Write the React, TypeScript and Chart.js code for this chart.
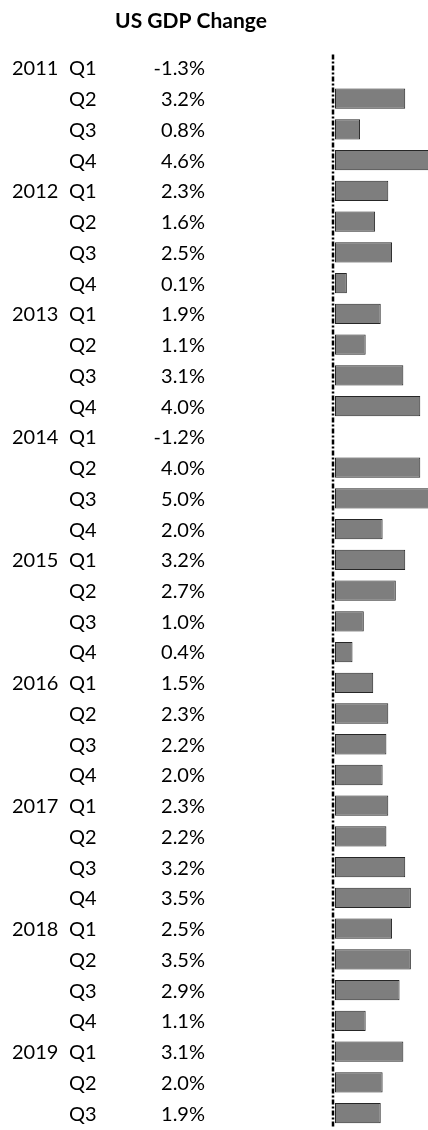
import { useEffect, useRef } from 'react';
import { Chart, registerables } from 'chart.js';

Chart.register(...registerables);

const TITLE = 'US GDP Change';
const years = ['2011', '2012', '2013', '2014', '2015', '2016', '2017', '2018', '2019'];
const quarters = ['Q1', 'Q2', 'Q3', 'Q4'];
const gdpChange = [
  -1.3, 3.2, 0.8, 4.6,
  2.3, 1.6, 2.5, 0.1,
  1.9, 1.1, 3.1, 4.0,
  -1.2, 4.0, 5.0, 2.0,
  3.2, 2.7, 1.0, 0.4,
  1.5, 2.3, 2.2, 2.0,
  2.3, 2.2, 3.2, 3.5,
  2.5, 3.5, 2.9, 1.1,
  3.1, 2.0, 1.9,
];

const X_MIN = -0.53;
const X_MAX = 4.41;

export default function App() {
  const ref = useRef<HTMLCanvasElement>(null);

  useEffect(() => {
    document.body.style.margin = '0';
    const canvas = ref.current;
    if (!canvas) return;

    const rowYear = gdpChange.map((_, i) => (i % 4 === 0 ? years[Math.floor(i / 4)] : ''));
    const rowQuarter = gdpChange.map((_, i) => quarters[i % 4]);
    const labels = gdpChange.map((_, i) => `${years[Math.floor(i / 4)]} ${rowQuarter[i]}`);

    const tablePlugin = {
      id: 'tableText',
      afterDraw(chart: any) {
        const ctx = chart.ctx as CanvasRenderingContext2D;
        const yScale = chart.scales.y;
        const area = chart.chartArea;
        ctx.save();
        // title
        ctx.fillStyle = '#000';
        ctx.font = 'bold 21px Lato, "Open Sans", sans-serif';
        ctx.textAlign = 'center';
        ctx.textBaseline = 'alphabetic';
        ctx.fillText(TITLE, 191, 28);
        // rows
        ctx.font = '20px Lato, "Open Sans", sans-serif';
        ctx.textBaseline = 'middle';
        gdpChange.forEach((v, i) => {
          const y = yScale.getPixelForValue(i) + 1;
          if (rowYear[i]) {
            ctx.textAlign = 'left';
            ctx.fillText(rowYear[i], 12, y);
          }
          ctx.textAlign = 'left';
          ctx.fillText(rowQuarter[i], 69, y);
          ctx.textAlign = 'right';
          ctx.fillText(`${v.toFixed(1)}%`, 205, y);
        });
        // dashed axis
        ctx.strokeStyle = '#000';
        ctx.lineWidth = 2.5;
        ctx.setLineDash([5, 2, 2, 2]);
        ctx.beginPath();
        ctx.moveTo(area.left - 2, area.top + 2);
        ctx.lineTo(area.left - 2, area.bottom);
        ctx.stroke();
        ctx.restore();
      },
    };

    const chart = new Chart(canvas, {
      type: 'bar',
      data: {
        labels,
        datasets: [
          {
            data: gdpChange,
            base: X_MIN,
            backgroundColor: '#7e7e7e',
            borderColor: '#262626',
            borderWidth: 1,
            borderSkipped: false,
            barPercentage: 0.66,
            categoryPercentage: 1,
            clip: 0,
          } as any,
        ],
      },
      options: {
        indexAxis: 'y',
        responsive: false,
        animation: false,
        layout: { padding: { left: 335, right: 0, top: 52.6, bottom: 1.5 } },
        plugins: { legend: { display: false }, tooltip: { enabled: false }, title: { display: false } },
        scales: {
          x: { type: 'linear', min: X_MIN, max: X_MAX, display: false },
          y: { type: 'category', display: false, offset: true },
        },
      },
      plugins: [tablePlugin],
    });

    return () => chart.destroy();
  }, []);

  return (
    <div style={{ width: 428, height: 1130, position: 'relative', overflow: 'hidden', background: '#fff' }}>
      <canvas ref={ref} width={428} height={1130} />
    </div>
  );
}
